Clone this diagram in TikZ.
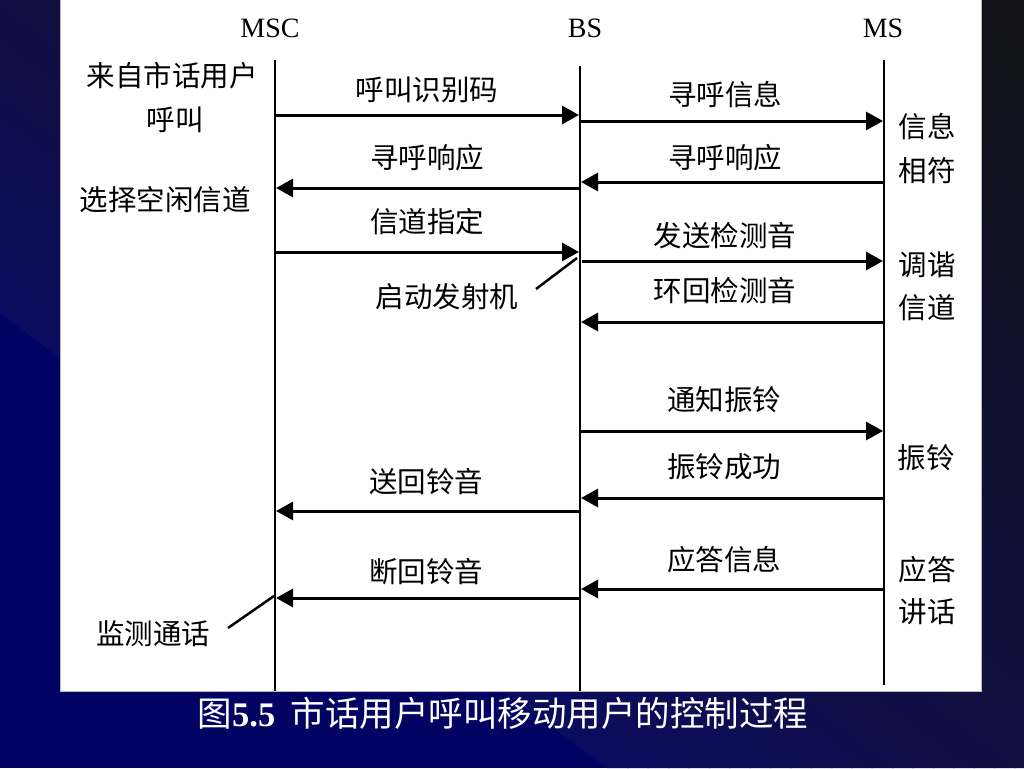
\documentclass[tikz,border=0pt]{standalone}
\usepackage{fontspec}
\setmainfont{Liberation Serif}
\newfontfamily\cjk{Noto Sans CJK SC}
\usetikzlibrary{arrows.meta}
\definecolor{navy}{RGB}{3,3,100}
\begin{document}
\begin{tikzpicture}[x=1pt,y=-1pt,
  lbl/.style={font=\cjk\fontsize{28.5}{30}\selectfont, inner sep=0pt, anchor=center},
  ent/.style={font=\fontsize{28}{30}\selectfont, inner sep=0pt, anchor=center},
  msg/.style={line width=3pt, -{Triangle[length=17pt,width=18pt]}},
  life/.style={line width=2.5pt},
  leader/.style={line width=2.5pt}]
\useasboundingbox (0,0) rectangle (1024,768);
% background: navy lower-left, darker blend towards the top-right corner
\fill[navy] (0,0) rectangle (1024,768);
\begin{scope}
  \clip (0,0) -- (1024,0) -- (1024,768) -- (607,768) -- (0,313) -- cycle;
  \foreach \i in {0,...,71} {
    \pgfmathsetmacro\bgda{\i*12.2222}
    \pgfmathsetmacro\bgdb{(\i+1)*12.2222+1}
    \pgfmathsetmacro\bgdm{(\i+0.5)*12.2222}
    \pgfmathsetmacro\bgta{min(1,\bgdm/250)}
    \pgfmathsetmacro\bgtb{max(0,min(1,(\bgdm-250)/615))}
    \pgfmathtruncatemacro\bgr{12+4*\bgta+2*\bgtb}
    \pgfmathtruncatemacro\bgg{12+3*\bgta+3*\bgtb}
    \pgfmathtruncatemacro\bgb{96-30*\bgta-44*\bgtb}
    \definecolor{bandc}{RGB}{\bgr,\bgg,\bgb}
    \pgfmathsetmacro\xa{0.6*\bgda-800}
    \pgfmathsetmacro\ya{313-0.8*\bgda-600}
    \pgfmathsetmacro\xb{0.6*\bgda+1600}
    \pgfmathsetmacro\yb{313-0.8*\bgda+1200}
    \pgfmathsetmacro\xc{0.6*\bgdb+1600}
    \pgfmathsetmacro\yc{313-0.8*\bgdb+1200}
    \pgfmathsetmacro\xd{0.6*\bgdb-800}
    \pgfmathsetmacro\yd{313-0.8*\bgdb-600}
    \fill[bandc] (\xa,\ya) -- (\xb,\yb) -- (\xc,\yc) -- (\xd,\yd) -- cycle;
  }
\end{scope}
\fill[white, draw=gray!55, line width=0.8pt] (60,-2) rectangle (981,691);
% entities
\node[ent] (msc) at (270,28) {MSC};
\node[ent] (bs) at (585,28) {BS};
\node[ent] (ms) at (883,28) {MS};
% lifelines
\coordinate (msctop) at (275,60);
\coordinate (mscbot) at (275,691);
\coordinate (bstop) at (580,66);
\coordinate (bsbot) at (580,691);
\coordinate (mstop) at (884,60);
\coordinate (msbot) at (884,685);
\draw[life] (msctop) -- (mscbot);
\draw[life] (bstop) -- (bsbot);
\draw[life] (mstop) -- (msbot);
% message endpoints
\coordinate (m1a) at (275,115); \coordinate (m1b) at (579,115);
\coordinate (m2a) at (581,121); \coordinate (m2b) at (883,121);
\coordinate (m3a) at (884,182); \coordinate (m3b) at (581,182);
\coordinate (m4a) at (580,188); \coordinate (m4b) at (276,188);
\coordinate (m5a) at (275,252); \coordinate (m5b) at (579,252);
\coordinate (m6a) at (582,261); \coordinate (m6b) at (883,261);
\coordinate (m7a) at (884,322); \coordinate (m7b) at (581,322);
\coordinate (m8a) at (581,431); \coordinate (m8b) at (883,431);
\coordinate (m9a) at (884,498); \coordinate (m9b) at (581,498);
\coordinate (m10a) at (580,511); \coordinate (m10b) at (276,511);
\coordinate (m11a) at (884,589); \coordinate (m11b) at (581,589);
\coordinate (m12a) at (580,598); \coordinate (m12b) at (276,598);
\draw[msg] (m1a) -- (m1b);
\draw[msg] (m2a) -- (m2b);
\draw[msg] (m3a) -- (m3b);
\draw[msg] (m4a) -- (m4b);
\draw[msg] (m5a) -- (m5b);
\draw[msg] (m6a) -- (m6b);
\draw[msg] (m7a) -- (m7b);
\draw[msg] (m8a) -- (m8b);
\draw[msg] (m9a) -- (m9b);
\draw[msg] (m10a) -- (m10b);
\draw[msg] (m11a) -- (m11b);
\draw[msg] (m12a) -- (m12b);
% message labels
\node[lbl] (l1) at (427,90) {呼叫识别码};
\node[lbl] (l2) at (725,95) {寻呼信息};
\node[lbl] (l3) at (725,158) {寻呼响应};
\node[lbl] (l4) at (427,158) {寻呼响应};
\node[lbl] (l5) at (427,222) {信道指定};
\node[lbl] (l6) at (725,236) {发送检测音};
\node[lbl] (l7) at (725,291) {环回检测音};
\node[lbl] (l8) at (724,400) {通知振铃};
\node[lbl] (l9) at (724,467) {振铃成功};
\node[lbl] (l10) at (426,482) {送回铃音};
\node[lbl] (l11) at (724,560) {应答信息};
\node[lbl] (l12) at (426,572) {断回铃音};
% side notes
\node[lbl] (s1) at (172,76) {来自市话用户};
\node[lbl] (s2) at (175,120) {呼叫};
\node[lbl] (s3) at (165,200) {选择空闲信道};
\node[lbl] (s4) at (927,127) {信息};
\node[lbl] (s5) at (927,171) {相符};
\node[lbl] (s6) at (927,265) {调谐};
\node[lbl] (s7) at (927,308) {信道};
\node[lbl] (s8) at (926,458) {振铃};
\node[lbl] (s9) at (927,570) {应答};
\node[lbl] (s10) at (927,612) {讲话};
\node[lbl] (s11) at (447,297) {启动发射机};
\node[lbl] (s12) at (153,634) {监测通话};
% leaders
\coordinate (d1a) at (536,289); \coordinate (d1b) at (577,258);
\coordinate (d2a) at (228,628); \coordinate (d2b) at (274,596);
\draw[leader] (d1a) -- (d1b);
\draw[leader] (d2a) -- (d2b);
% caption
\node[font=\cjk\fontsize{34.5}{36}\selectfont, text=white, inner sep=0pt] (cap) at (503,713)
  {图{\rmfamily\bfseries 5.5}\ \ 市话用户呼叫移动用户的控制过程};
\end{tikzpicture}
\end{document}
